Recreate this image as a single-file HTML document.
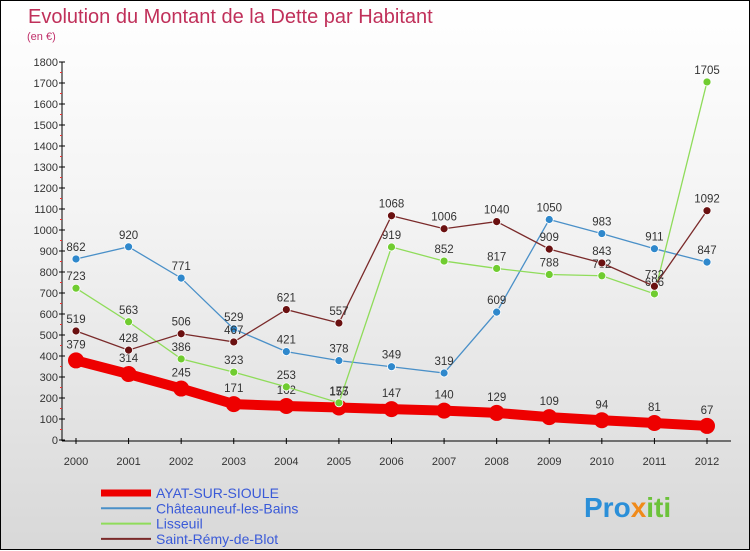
<!DOCTYPE html>
<html><head><meta charset="utf-8"><style>
body{margin:0;}
#c{width:748px;height:548px;border:1px solid #000;background:linear-gradient(#fff,#f3f3f3 40%,#d8d8d8);position:relative;font-family:"Liberation Sans",sans-serif;}
svg{position:absolute;left:0;top:0;}
</style></head><body>
<div id="c">
<svg id="s" width="750" height="550" xmlns="http://www.w3.org/2000/svg">
<text x="27" y="22" font-size="20" fill="#c0305a">Evolution du Montant de la Dette par Habitant</text>
<text x="26" y="39" font-size="11" fill="#c0306a">(en €)</text>
<g id="axes"></g><g id="series"></g><g id="legend"></g>
<text x="583" y="516" font-size="28" font-weight="bold" fill="#2b8fd8">Pro<tspan fill="#f08a1a">x</tspan><tspan fill="#6cc23a">iti</tspan></text>
</svg></div>
<script>
const years=["2000","2001","2002","2003","2004","2005","2006","2007","2008","2009","2010","2011","2012"];
const ayat=[379,314,245,171,162,155,147,140,129,109,94,81,67];
const chat=[862,920,771,529,421,378,349,319,609,1050,983,911,847];
const liss=[723,563,386,323,253,177,919,852,817,788,782,696,1705];
const remy=[519,428,506,467,621,557,1068,1006,1040,909,843,732,1092];
const yTicks=[0,100,200,300,400,500,600,700,800,900,1000,1100,1200,1300,1400,1500,1600,1700,1800];
const NS="http://www.w3.org/2000/svg";
const X=i=>75+i*(706-75)/(years.length-1);
const Y=v=>439-v*(439-61)/1800;
function mk(p,t,a){const e=document.createElementNS(NS,t);for(const k in a)e.setAttribute(k,a[k]);p.appendChild(e);return e;}
const ax=document.getElementById('axes');
let l=mk(ax,'line',{x1:61,y1:61,x2:61,y2:440,stroke:'#000'});


l=mk(ax,'line',{x1:61,y1:440,x2:730,y2:440,stroke:'#000'});


yTicks.forEach(v=>{mk(ax,'line',{x1:58,x2:64,y1:Y(v),y2:Y(v),stroke:'#000'});
 if(v<1800)mk(ax,'line',{x1:59,x2:61,y1:Y(v+50),y2:Y(v+50),stroke:'#e33'});
 const t=mk(ax,'text',{x:57,y:Y(v)+4,'font-size':11,'text-anchor':'end',fill:'#333'});t.textContent=v;
 
 });
years.forEach((y,i)=>{mk(ax,'line',{x1:X(i),x2:X(i),y1:437,y2:443,stroke:'#000'});
 const t=mk(ax,'text',{x:X(i),y:464,'font-size':11,'text-anchor':'middle',fill:'#333'});t.textContent=y;
 
 });
const ser=[
 {n:'Châteauneuf-les-Bains',d:chat,c:'#4a90c8',f:'#2f88cc',w:1.3,r:4,k:'chateauneuf'},
 {n:'Lisseuil',d:liss,c:'#8fdc5a',f:'#70cc30',w:1.3,r:4,k:'lisseuil'},
 {n:'Saint-Rémy-de-Blot',d:remy,c:'#7a2a2a',f:'#6a1010',w:1.3,r:4,k:'saint-remy'},
 {n:'AYAT-SUR-SIOULE',d:ayat,c:'#ee0000',f:'#ee0000',w:10,r:8,k:'ayat'}];
const sg=document.getElementById('series');
[ser[3],ser[0],ser[1],ser[2]].forEach(s=>{
 const g=mk(sg,'g',{});
 
 
 const p=mk(g,'polyline',{points:s.d.map((v,i)=>X(i)+','+Y(v)).join(' '),fill:'none',stroke:s.c,'stroke-width':s.w});
 
 
 s.d.forEach((v,i)=>{const c=mk(g,'circle',{cx:X(i),cy:Y(v),r:s.r,fill:s.f,stroke:'#fff','stroke-width':s.r>5?0:0.8});
  
  
  const t=mk(g,'text',{x:X(i),y:Y(v)-(s.r>5?12:8),'font-size':11.5,'text-anchor':'middle',fill:'#333'});t.textContent=v;
  
  });
});
const lg=document.getElementById('legend');
[ser[3],ser[0],ser[1],ser[2]].forEach((s,i)=>{const y=492+i*15.3;
 const g=mk(lg,'g',{});
 
 
 mk(g,'line',{x1:100,x2:150,y1:y,y2:y,stroke:s.c,'stroke-width':i==0?7:2});
 const t=mk(g,'text',{x:155,y:y+5,'font-size':14,fill:'#3a5ad8'});t.textContent=s.n;});
</script>
</body></html>
